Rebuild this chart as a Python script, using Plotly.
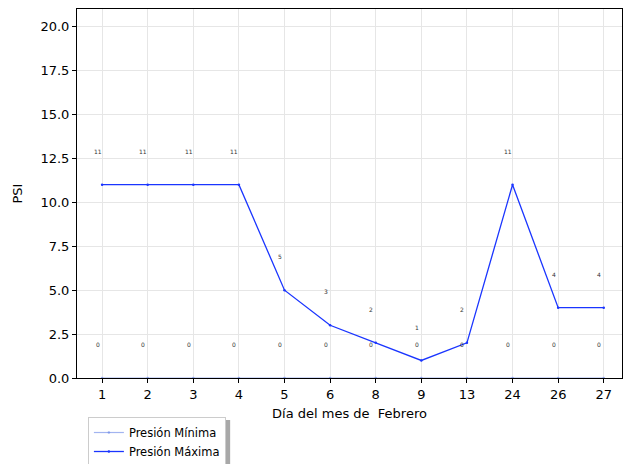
import plotly.graph_objects as go

dias = ["1", "2", "3", "4", "5", "6", "8", "9", "13", "24", "26", "27"]
presion_minima = [0, 0, 0, 0, 0, 0, 0, 0, 0, 0, 0, 0]
presion_maxima = [11, 11, 11, 11, 5, 3, 2, 1, 2, 11, 4, 4]

xpos = list(range(len(dias)))
FONT = "DejaVu Sans"

fig = go.Figure()
fig.add_trace(go.Scatter(
    x=xpos, y=presion_minima, mode="lines+markers", name="Presión Mínima",
    line=dict(color="rgba(100,130,230,0.6)", width=1.2),
    marker=dict(size=2.5, color="rgba(100,130,230,0.6)"),
))
fig.add_trace(go.Scatter(
    x=xpos, y=presion_maxima, mode="lines+markers", name="Presión Máxima",
    line=dict(color="#1a35ff", width=1.3),
    marker=dict(size=2.5, color="#1a35ff"),
))

annotations = []
for i, (lo, hi) in enumerate(zip(presion_minima, presion_maxima)):
    for v in (lo, hi):
        annotations.append(dict(
            x=i - 0.1, y=v + 1.9, xref="x", yref="y", text=str(v),
            showarrow=False, font=dict(family=FONT, size=6, color="#333333"),
        ))

# legend drop shadow
shapes = [dict(
    type="rect", xref="paper", yref="paper",
    x0=0.0257, x1=0.281, y0=-0.233, y1=-0.1138,
    fillcolor="#a8a8a8", line=dict(width=0), layer="below",
)]

fig.update_layout(
    width=623, height=464,
    margin=dict(l=77, r=1, t=9, b=86, autoexpand=False),
    plot_bgcolor="white", paper_bgcolor="white",
    font=dict(family=FONT, size=13, color="black"),
    annotations=annotations,
    shapes=shapes,
    showlegend=True,
    legend=dict(
        x=0.02, y=-0.1057, xanchor="left", yanchor="top",
        bgcolor="white", bordercolor="#cccccc", borderwidth=1,
        font=dict(family=FONT, size=11.5),
        tracegroupgap=0,
    ),
    xaxis=dict(
        tickmode="array", tickvals=xpos, ticktext=dias,
        range=[-0.55, 11.4],
        showgrid=True, gridcolor="#e6e6e6", gridwidth=1,
        showline=True, linecolor="black", linewidth=1, mirror=True,
        ticks="outside", ticklen=4, tickcolor="black",
        zeroline=False,
        title=dict(text="Día del mes de  Febrero", font=dict(size=13), standoff=8),
    ),
    yaxis=dict(
        range=[0, 21],
        tickmode="array", tickvals=[0, 2.5, 5, 7.5, 10, 12.5, 15, 17.5, 20],
        ticktext=["0.0", "2.5", "5.0", "7.5", "10.0", "12.5", "15.0", "17.5", "20.0"],
        showgrid=True, gridcolor="#e6e6e6", gridwidth=1,
        showline=True, linecolor="black", linewidth=1, mirror=True,
        ticks="outside", ticklen=4, tickcolor="black",
        zeroline=False,
        title=dict(text="PSI", font=dict(size=13), standoff=14),
    ),
)

fig.write_html(
    "out.html",
    config={"displayModeBar": False},
    post_script="document.body.style.margin='0';document.body.style.overflow='hidden';",
)
